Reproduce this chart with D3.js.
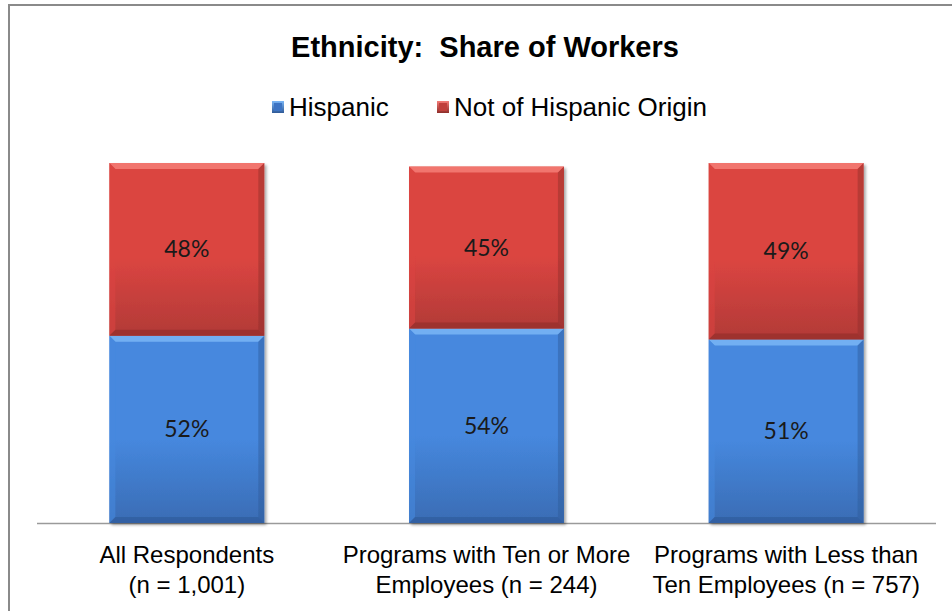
<!DOCTYPE html>
<html>
<head>
<meta charset="utf-8">
<script src="https://cdn.jsdelivr.net/npm/d3@7"></script>
<style>
  html, body { margin: 0; padding: 0; background: #fff; }
  svg { display: block; }
</style>
</head>
<body>
<svg id="chart" width="952" height="611"></svg>
<script>
// Chart data
const categories = [
  ["All Respondents", "(n = 1,001)"],
  ["Programs with Ten or More", "Employees (n = 244)"],
  ["Programs with Less than", "Ten Employees (n = 757)"]
];
const hispanic = [52, 54, 51];
const notHispanic = [48, 45, 49];
const seriesNames = ["Hispanic", "Not of Hispanic Origin"];
const titleText = "Ethnicity:  Share of Workers";

const svg = d3.select("#chart");

// Outer frame
svg.append("rect")
  .attr("x", 9).attr("y", 5).attr("width", 960).attr("height", 640)
  .attr("fill", "#fff").attr("stroke", "#8a8a8a").attr("stroke-width", 2);

// Palette per series
const palettes = {
  blue: { light: "#7ab6f6", top: "#4688de", bottom: "#3a6cb4", dark: "#2f5a98", key: "#3d74c4" },
  red:  { light: "#f47c77", top: "#db4541", bottom: "#b23a37", dark: "#8f2d2a", key: "#c0403c" }
};

const defs = svg.append("defs");
Object.entries(palettes).forEach(([k, p]) => {
  const g = defs.append("linearGradient").attr("id", "grad-" + k)
    .attr("x1", 0).attr("y1", 0).attr("x2", 0).attr("y2", 1);
  g.append("stop").attr("offset", "0%").attr("stop-color", p.top);
  g.append("stop").attr("offset", "55%").attr("stop-color", p.top);
  g.append("stop").attr("offset", "100%").attr("stop-color", p.bottom);
  const kg = defs.append("linearGradient").attr("id", "key-" + k)
    .attr("x1", 0).attr("y1", 0).attr("x2", 0).attr("y2", 1);
  kg.append("stop").attr("offset", "0%").attr("stop-color", p.light);
  kg.append("stop").attr("offset", "100%").attr("stop-color", p.dark);
});
const shadow = defs.append("filter").attr("id", "shadow")
  .attr("x", "-10%").attr("y", "-10%").attr("width", "130%").attr("height", "130%");
shadow.append("feGaussianBlur").attr("in", "SourceAlpha").attr("stdDeviation", 1.5).attr("result", "b");
shadow.append("feOffset").attr("in", "b").attr("dx", 1.5).attr("dy", 1.5).attr("result", "o");
shadow.append("feComponentTransfer").attr("in", "o").attr("result", "s")
  .append("feFuncA").attr("type", "linear").attr("slope", 0.35);
const merge = shadow.append("feMerge");
merge.append("feMergeNode").attr("in", "s");
merge.append("feMergeNode").attr("in", "SourceGraphic");

// Scales
const x = d3.scaleBand().domain(d3.range(categories.length))
  .range([37, 936]).paddingInner(0.483).paddingOuter(0.2415);
const y = d3.scaleLinear().domain([0, 100]).range([523, 163]);

// Title
svg.append("text")
  .attr("x", 485).attr("y", 57)
  .attr("text-anchor", "middle")
  .attr("font-family", "Liberation Sans, Arial, sans-serif")
  .attr("font-weight", "bold").attr("font-size", 29)
  .attr("fill", "#000")
  .attr("xml:space", "preserve")
  .text(titleText);

// Legend
const legend = [
  { name: seriesNames[0], key: "blue", x: 272 },
  { name: seriesNames[1], key: "red", x: 437 }
];
legend.forEach(l => {
  svg.append("rect").attr("x", l.x).attr("y", 101).attr("width", 12).attr("height", 12)
    .attr("fill", "url(#key-" + l.key + ")");
  svg.append("rect").attr("x", l.x + 2).attr("y", 103).attr("width", 8).attr("height", 8)
    .attr("fill", palettes[l.key].key);
  svg.append("text").attr("x", l.x + 17).attr("y", 116)
    .attr("font-family", "Liberation Sans, Arial, sans-serif")
    .attr("font-size", 26).attr("fill", "#000")
    .text(l.name);
});

// Stacked data
const stacks = categories.map((c, i) => ([
  { key: "blue", y0: 0, y1: hispanic[i], v: hispanic[i] },
  { key: "red", y0: hispanic[i], y1: hispanic[i] + notHispanic[i], v: notHispanic[i] }
]));

// Axis baseline
svg.append("line")
  .attr("x1", 37).attr("x2", 936).attr("y1", y(0) + 0.5).attr("y2", y(0) + 0.5)
  .attr("stroke", "#9a9a9a").attr("stroke-width", 1.5);

// Bars with bevelled segments
const bev = 6;
stacks.forEach((segs, i) => {
  const x0 = x(i), bw = x.bandwidth();
  const g = svg.append("g").attr("filter", "url(#shadow)");
  segs.forEach(s => {
    const p = palettes[s.key];
    const top = y(s.y1), bot = y(s.y0), h = bot - top;
    g.append("rect").attr("x", x0).attr("y", top).attr("width", bw).attr("height", h)
      .attr("fill", "url(#grad-" + s.key + ")");
    g.append("path")
      .attr("d", `M${x0},${top} L${x0 + bw},${top} L${x0 + bw - bev},${top + bev} L${x0 + bev},${top + bev} Z`)
      .attr("fill", p.light).attr("opacity", 0.85);
    g.append("path")
      .attr("d", `M${x0},${top} L${x0 + bev},${top + bev} L${x0 + bev},${bot - bev} L${x0},${bot} Z`)
      .attr("fill", p.top).attr("opacity", 0.6);
    g.append("path")
      .attr("d", `M${x0 + bw},${top} L${x0 + bw},${bot} L${x0 + bw - bev},${bot - bev} L${x0 + bw - bev},${top + bev} Z`)
      .attr("fill", p.dark).attr("opacity", 0.45);
    g.append("path")
      .attr("d", `M${x0},${bot} L${x0 + bev},${bot - bev} L${x0 + bw - bev},${bot - bev} L${x0 + bw},${bot} Z`)
      .attr("fill", p.dark).attr("opacity", 0.6);
    svg.append("text")
      .attr("x", x0 + bw / 2).attr("y", (top + bot) / 2 + 8)
      .attr("text-anchor", "middle")
      .attr("font-family", "Lato, 'Open Sans', sans-serif")
      .attr("font-size", 23).attr("fill", "#1a1a1a")
      .text(s.v + "%");
  });
});

// Category labels
categories.forEach((lines, i) => {
  const cx = x(i) + x.bandwidth() / 2;
  const t = svg.append("text")
    .attr("x", cx).attr("y", 563)
    .attr("text-anchor", "middle")
    .attr("font-family", "Liberation Sans, Arial, sans-serif")
    .attr("font-size", 24).attr("fill", "#000");
  lines.forEach((ln, j) => {
    t.append("tspan").attr("x", cx).attr("dy", j === 0 ? 0 : 30).text(ln);
  });
});
</script>
</body>
</html>
